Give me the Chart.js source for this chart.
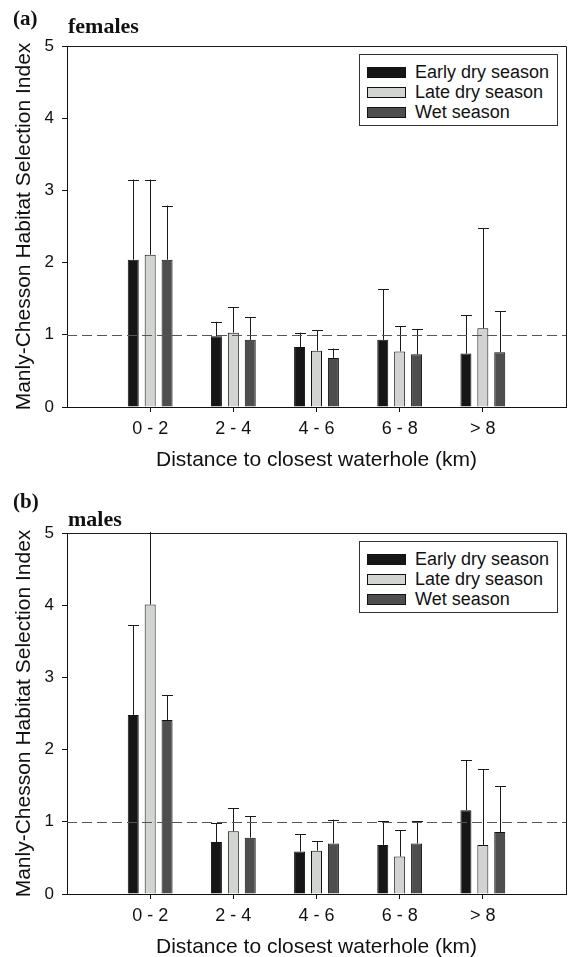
<!DOCTYPE html>
<html>
<head>
<meta charset="utf-8">
<script src="https://cdn.jsdelivr.net/npm/chart.js@4.4.0/dist/chart.umd.min.js"></script>
<style>
  html, body { margin: 0; padding: 0; background: #fff; overflow: hidden; }
  body { width: 572px; height: 957px; position: relative; font-family: "Liberation Sans", Arial, sans-serif; }
  .panel { position: absolute; left: 0; width: 572px; height: 487px; }
  .panel canvas { position: absolute; left: 0; top: 0; }
  .tag { position: absolute; font-family: "Liberation Serif", "Times New Roman", serif; font-weight: bold; line-height: 1; color: #111; }
  .legend { position: absolute; left: 359px; top: 54px; width: 199px; height: 72px; border: 1px solid #333; background: #fff; padding-top: 7px; box-sizing: border-box; }
  .legend div { height: 20px; line-height: 20px; font-size: 18px; color: #111; position: relative; padding-left: 55px; white-space: nowrap; }
  .legend span { position: absolute; left: 7px; top: 5px; width: 37px; height: 9px; border: 1px solid #111; }
</style>
</head>
<body>
<div class="panel" id="panelA" style="top:0px">
  <canvas id="chartA" width="572" height="487"></canvas>
  <div class="tag" style="left:13px; top:8px; font-size:21px;">(a)</div>
  <div class="tag" style="left:68px; top:15px; font-size:22px;">females</div>
  <div class="legend" id="legendA"></div>
</div>
<div class="panel" id="panelB" style="top:487px">
  <canvas id="chartB" width="572" height="487"></canvas>
  <div class="tag" style="left:13px; top:4px; font-size:21px;">(b)</div>
  <div class="tag" style="left:68px; top:21px; font-size:22px;">males</div>
  <div class="legend" id="legendB"></div>
</div>
<script>
// distance classes
var categories = ['0 - 2', '2 - 4', '4 - 6', '6 - 8', '> 8'];
var seasons = ['Early dry season', 'Late dry season', 'Wet season'];
var seasonColors = ['#161616', '#d2d4d2', '#4e4e4e'];

// (a) females: mean index and top of error bar
var femEarly = [2.04, 0.98, 0.83, 0.93, 0.74];
var femEarlyErr = [3.15, 1.18, 1.03, 1.63, 1.27];
var femLate = [2.11, 1.03, 0.78, 0.77, 1.09];
var femLateErr = [3.15, 1.38, 1.06, 1.12, 2.48];
var femWet = [2.04, 0.93, 0.68, 0.73, 0.76];
var femWetErr = [2.79, 1.24, 0.81, 1.08, 1.33];

// (b) males
var maleEarly = [2.48, 0.72, 0.59, 0.68, 1.16];
var maleEarlyErr = [3.72, 0.98, 0.83, 1.01, 1.85];
var maleLate = [4.01, 0.87, 0.60, 0.52, 0.68];
var maleLateErr = [5.6, 1.19, 0.73, 0.88, 1.73];
var maleWet = [2.41, 0.78, 0.70, 0.70, 0.86];
var maleWetErr = [2.75, 1.08, 1.03, 1.01, 1.49];

var yTicks = [0, 1, 2, 3, 4, 5];
var refLine = 1;

// empty slot each side so the groups sit like in the original
function pad(arr) { return [null].concat(arr, [null]); }

var extras = {
    id: 'extras',
    afterDatasetsDraw: function(chart) {
        var ctx = chart.ctx;
        var area = chart.chartArea;
        var y = chart.scales.y;
        ctx.save();
        ctx.beginPath();
        ctx.rect(area.left, area.top - 1, area.right - area.left, area.bottom - area.top + 1);
        ctx.clip();
        // error bars (upper only)
        ctx.strokeStyle = '#1a1a1a';
        ctx.lineWidth = 1;
        chart.data.datasets.forEach(function(ds, i) {
            var meta = chart.getDatasetMeta(i);
            meta.data.forEach(function(bar, j) {
                var e = ds.errUpper[j];
                if (e == null || ds.data[j] == null) return;
                var x = Math.round(bar.x) + 0.5;
                var yt = y.getPixelForValue(e);
                var half = bar.width / 2;
                ctx.beginPath();
                ctx.moveTo(x, bar.y);
                ctx.lineTo(x, yt);
                ctx.moveTo(x - half, Math.round(yt) + 0.5);
                ctx.lineTo(x + half, Math.round(yt) + 0.5);
                ctx.stroke();
            });
        });
        ctx.restore();

        // dashed reference line
        ctx.save();
        var yr = Math.round(y.getPixelForValue(refLine)) + 0.5;
        ctx.strokeStyle = '#555';
        ctx.setLineDash([10, 5]);
        ctx.beginPath();
        ctx.moveTo(area.left, yr);
        ctx.lineTo(area.right, yr);
        ctx.stroke();
        ctx.restore();

        // box top and right
        ctx.save();
        ctx.strokeStyle = '#1a1a1a';
        ctx.lineWidth = 1;
        ctx.beginPath();
        ctx.moveTo(area.left, Math.round(area.top) + 0.5);
        ctx.lineTo(Math.round(area.right) + 0.5, Math.round(area.top) + 0.5);
        ctx.lineTo(Math.round(area.right) + 0.5, area.bottom);
        ctx.stroke();
        ctx.restore();
    }
};

function makeChart(canvasId, legendId, series, errs) {
    var datasets = series.map(function(vals, i) {
        return {
            label: seasons[i],
            data: pad(vals),
            errUpper: pad(errs[i]),
            backgroundColor: seasonColors[i],
            borderColor: '#111',
            borderWidth: 1,
            categoryPercentage: 0.61,
            barPercentage: 0.65
        };
    });

    var ctx = document.getElementById(canvasId).getContext('2d');
    var chart = new Chart(ctx, {
        type: 'bar',
        data: {
            labels: pad(categories).map(function(c) { return c || ''; }),
            datasets: datasets
        },
        options: {
            responsive: false,
            animation: false,
            devicePixelRatio: 1,
            layout: { padding: { top: 46, right: 4, left: 0, bottom: 0 } },
            plugins: {
                legend: { display: false },
                tooltip: { enabled: false }
            },
            scales: {
                x: {
                    offset: false,
                    grid: {
                        offset: false,
                        drawOnChartArea: false,
                        tickLength: 5,
                        tickColor: function(c) {
                            return (c.index === 0 || c.index === categories.length + 1) ? 'rgba(0,0,0,0)' : '#111';
                        }
                    },
                    border: { color: '#111', width: 1 },
                    ticks: {
                        color: '#111',
                        font: { family: 'Liberation Sans', size: 18 },
                        padding: 6,
                        maxRotation: 0,
                        autoSkip: false
                    },
                    title: {
                        display: true,
                        text: 'Distance to closest waterhole (km)',
                        color: '#111',
                        font: { family: 'Liberation Sans', size: 21 },
                        padding: { top: 0, bottom: 14 }
                    },
                    afterFit: function(scale) { scale.height = 80; }
                },
                y: {
                    min: 0,
                    max: 5,
                    afterBuildTicks: function(scale) {
                        scale.ticks = yTicks.map(function(v) { return { value: v }; });
                    },
                    grid: { drawOnChartArea: false, tickLength: 5, tickColor: '#111' },
                    border: { color: '#111', width: 1 },
                    ticks: {
                        color: '#111',
                        font: { family: 'Liberation Sans', size: 17 },
                        padding: 8
                    },
                    title: {
                        display: true,
                        text: 'Manly-Chesson Habitat Selection Index',
                        color: '#111',
                        font: { family: 'Liberation Sans', size: 21 },
                        padding: { top: 12, bottom: 0 }
                    },
                    afterFit: function(scale) { scale.width = 67; }
                }
            }
        },
        plugins: [extras]
    });

    // legend box built from the dataset labels
    var box = document.getElementById(legendId);
    chart.data.datasets.forEach(function(ds) {
        var row = document.createElement('div');
        var sw = document.createElement('span');
        sw.style.background = ds.backgroundColor;
        row.appendChild(sw);
        row.appendChild(document.createTextNode(ds.label));
        box.appendChild(row);
    });
    return chart;
}

makeChart('chartA', 'legendA', [femEarly, femLate, femWet], [femEarlyErr, femLateErr, femWetErr]);
makeChart('chartB', 'legendB', [maleEarly, maleLate, maleWet], [maleEarlyErr, maleLateErr, maleWetErr]);
</script>
</body>
</html>
